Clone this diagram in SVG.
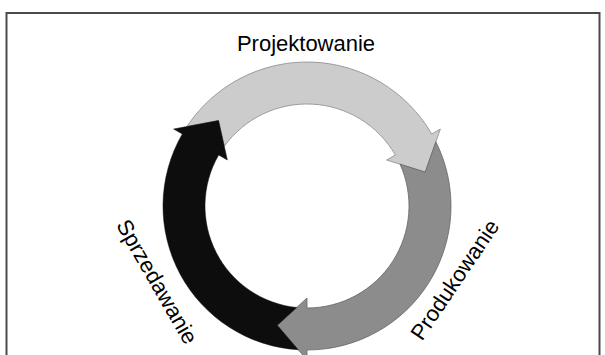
<svg xmlns="http://www.w3.org/2000/svg" width="605" height="355" viewBox="0 0 605 355">
<style>
.lbl{font-family:"Liberation Sans",Arial,sans-serif;font-size:22px;fill:#000;text-anchor:middle}
.a1{fill:#cccccc;stroke:#8a8a8a;stroke-width:0.8}
.a2{fill:#8c8c8c;stroke:#666666;stroke-width:0.8}
.a3{fill:#0d0d0d;stroke:#0d0d0d;stroke-width:0.5}
</style>
<rect x="6.5" y="13" width="593" height="360" fill="#ffffff" stroke="#4a4a4a" stroke-width="2"/>
<g id="projektowanie">
<path class="a1" d="M186.95,126.48 A144,144 0 0 1 431.71,134 L440.37,129 L425.24,172.10 L386.67,160 L395.33,155 A102,102 0 0 0 224.27,146.33 L218.52,120.55 Z"/>
<text class="lbl" x="306" y="51">Projektowanie</text>
</g>
<g id="produkowanie">
<path class="a2" d="M435.88,141.76 A144,144 0 0 1 307,350 L307,360 L277.24,325.35 L307,298 L307,308 A102,102 0 0 0 400.04,164.19 L425.24,172.10 Z"/>
<text class="lbl" transform="translate(461,284) rotate(-56)">Produkowanie</text>
</g>
<g id="sprzedawanie">
<path class="a3" d="M298.18,349.73 A144,144 0 0 1 182.29,134 L173.63,129 L218.52,120.55 L227.33,160 L218.67,155 A102,102 0 0 0 296.69,307.48 L277.24,325.35 Z"/>
<text class="lbl" transform="translate(150.5,285.5) rotate(60)">Sprzedawanie</text>
</g>
<g id="connectors"/>
</svg>
